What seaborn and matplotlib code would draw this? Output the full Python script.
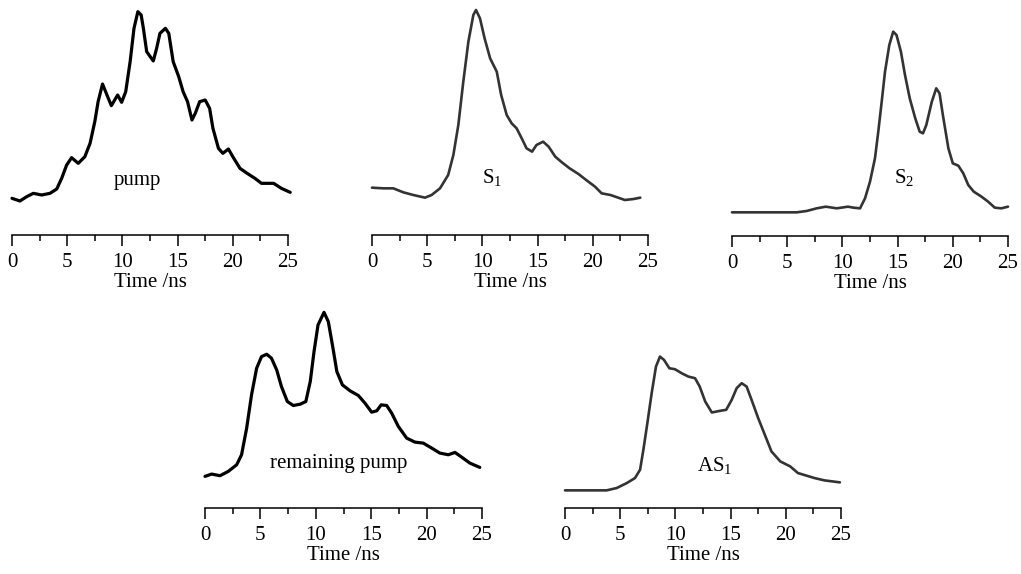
import pandas as pd
import matplotlib
matplotlib.use("Agg")
import matplotlib.pyplot as plt
import seaborn as sns
import matplotlib.ticker as mticker

# Pulse shapes (time in ns, intensity in arbitrary units)
pump_t = [0.0, 0.72, 1.33, 1.93, 2.69, 3.44, 4.05, 4.5, 4.95, 5.4, 6.0, 6.6, 7.07, 7.5, 7.8,
          8.2, 8.6, 9.0, 9.3, 9.57, 9.93, 10.3, 10.7, 11.05, 11.4, 11.7, 11.9, 12.2, 12.8,
          13.1, 13.4, 13.9, 14.2, 14.6, 15.1, 15.5, 15.9, 16.3, 16.6, 17.0, 17.5, 17.9,
          18.2, 18.7, 19.1, 19.6, 20.0, 20.65, 21.3, 22.0, 22.6, 23.7, 24.4, 25.2]
pump_v = [5, -3, 10, 20, 15, 20, 33, 65, 105, 127, 110, 130, 170, 235, 295,
          348, 315, 283, 300, 315, 293, 325, 415, 515, 565, 555, 515, 445, 417,
          455, 500, 515, 500, 415, 370, 325, 295, 240, 260, 295, 300, 275,
          215, 155, 140, 153, 130, 95, 80, 65, 50, 50, 35, 23]

s1_t = [0.0, 1.03, 1.93, 2.84, 3.74, 4.8, 5.4, 6.16, 6.9, 7.37, 7.82, 8.27, 8.73, 9.18, 9.42,
        9.78, 10.2, 10.7, 11.3, 11.7, 12.2, 12.65, 13.1, 13.56, 14.0, 14.5, 14.9, 15.5, 16.0,
        16.6, 17.2, 17.9, 18.7, 19.4, 20.2, 20.8, 21.6, 22.3, 22.9, 23.7, 24.3]
s1_v = [37, 35, 35, 23, 15, 7, 15, 35, 75, 135, 225, 355, 475, 555, 570,
        545, 485, 425, 385, 315, 255, 230, 215, 185, 155, 145, 165, 175, 160,
        130, 113, 95, 78, 60, 40, 20, 15, 7, 0, 3, 7]

s2_t = [0.0, 5.86, 6.76, 7.67, 8.5, 9.48, 10.1, 10.5, 11.0, 11.6, 12.05, 12.5, 12.95, 13.25,
        13.56, 13.86, 14.25, 14.6, 14.9, 15.3, 15.67, 16.1, 16.6, 17.0, 17.3, 17.6, 18.1,
        18.5, 18.8, 19.1, 19.6, 20.0, 20.5, 20.95, 21.4, 21.9, 22.6, 23.2, 23.8, 24.4, 25.0]
s2_v = [3, 3, 7, 15, 20, 15, 18, 20, 17, 15, 45, 95, 165, 245,
        335, 425, 505, 545, 535, 485, 415, 345, 285, 245, 240, 265, 335,
        375, 360, 295, 195, 150, 143, 120, 85, 65, 50, 35, 17, 15, 20]

rem_t = [0.0, 0.6, 1.35, 2.1, 2.86, 3.3, 3.76, 4.2, 4.66, 5.1, 5.57, 6.0, 6.47, 6.9, 7.43,
         7.97, 8.6, 9.1, 9.5, 9.84, 10.2, 10.74, 11.13, 11.5, 11.9, 12.4, 13.1, 13.84, 14.44,
         15.04, 15.5, 15.9, 16.4, 16.85, 17.45, 18.2, 18.95, 19.7, 20.46, 21.2, 21.96, 22.56,
         23.2, 23.9, 24.8]
rem_v = [10, 17, 12, 25, 45, 75, 155, 255, 335, 370, 377, 365, 330, 280, 235,
         223, 227, 235, 295, 385, 465, 503, 475, 405, 325, 285, 267, 253, 230,
         203, 207, 225, 223, 200, 160, 125, 113, 110, 95, 80, 75, 82,
         67, 50, 37]

as1_t = [0.0, 3.77, 4.68, 5.6, 6.34, 6.8, 7.1, 7.46, 7.85, 8.24, 8.6, 8.97, 9.45, 9.96, 10.57,
         11.17, 11.78, 12.2, 12.7, 13.3, 14.04, 14.6, 15.1, 15.55, 16.0, 16.45, 16.9, 17.5,
         18.1, 18.7, 19.5, 20.4, 21.1, 21.9, 22.6, 23.5, 24.9]
as1_v = [8, 8, 15, 30, 45, 70, 130, 210, 300, 380, 410, 400, 375, 372, 360,
         350, 345, 320, 275, 242, 247, 250, 280, 315, 330, 320, 280, 225,
         175, 125, 95, 80, 60, 52, 45, 38, 32]

names = ["pump", "S1", "S2", "remaining pump", "AS1"]
labels = ["pump", r"$\mathrm{S}_{1}$", r"$\mathrm{S}_{2}$", "remaining pump", r"$\mathrm{AS}_{1}$"]

sns.set_style("white")
plt.rcParams['font.family'] = ['Liberation Serif', 'DejaVu Serif']
plt.rcParams['mathtext.fontset'] = 'custom'
plt.rcParams['mathtext.rm'] = 'Liberation Serif'
plt.rcParams['text.color'] = 'black'
plt.rcParams['axes.labelcolor'] = 'black'
plt.rcParams['xtick.color'] = 'black'

W, H = 1021, 574
fig = plt.figure(figsize=(W / 100, H / 100), dpi=100)

# panel boxes in pixels: left, right, top, bottom ; y-limits ; label position ; line look
panels = [
    (pump_t, pump_v, (12, 288, 10, 235), (-105, 570), (11.4, 45), 'black', 2.3),
    (s1_t, s1_v, (372, 648, 10, 235), (-105, 570), (10.9, 50), '#333333', 1.9),
    (s2_t, s2_v, (732, 1008, 10, 236), (-68, 610), (15.6, 90), '#333333', 1.9),
    (rem_t, rem_v, (205, 482, 310, 508), (-85, 510), (12.1, 35), 'black', 2.3),
    (as1_t, as1_v, (565, 841, 310, 508), (-45, 550), (13.6, 65), '#333333', 1.9),
]

for name, lab, (t, v, box, ylim, lpos, col, lw) in zip(names, labels, panels):
    l, r, top, bot = box
    ax = fig.add_axes([l / W, 1 - bot / H, (r - l) / W, (bot - top) / H])
    df = pd.DataFrame({'Time': t, 'Intensity': v})
    sns.lineplot(data=df, x='Time', y='Intensity', ax=ax, color=col, linewidth=lw)
    for ln in ax.lines:
        ln.set_clip_on(False)
        ln.set_solid_joinstyle('round')
    ax.set_xlim(0, 25)
    ax.set_ylim(*ylim)
    for s in ['top', 'left', 'right']:
        ax.spines[s].set_visible(False)
    ax.spines['bottom'].set_linewidth(1.1)
    ax.spines['bottom'].set_color('black')
    ax.set_yticks([])
    ax.xaxis.set_major_locator(mticker.MultipleLocator(5))
    ax.xaxis.set_minor_locator(mticker.MultipleLocator(2.5))
    ax.tick_params(axis='x', which='major', direction='out', length=8, width=1.1,
                   labelsize=15, pad=5, bottom=True)
    ax.tick_params(axis='x', which='minor', direction='out', length=4, width=1.1, bottom=True)
    ax.set_xlabel('Time /ns', fontsize=15, labelpad=1)
    ax.set_ylabel('')
    ax.patch.set_alpha(0)
    ax.text(lpos[0], lpos[1], lab, fontsize=15, ha='center', va='baseline')

plt.savefig('out.png', dpi=100)
